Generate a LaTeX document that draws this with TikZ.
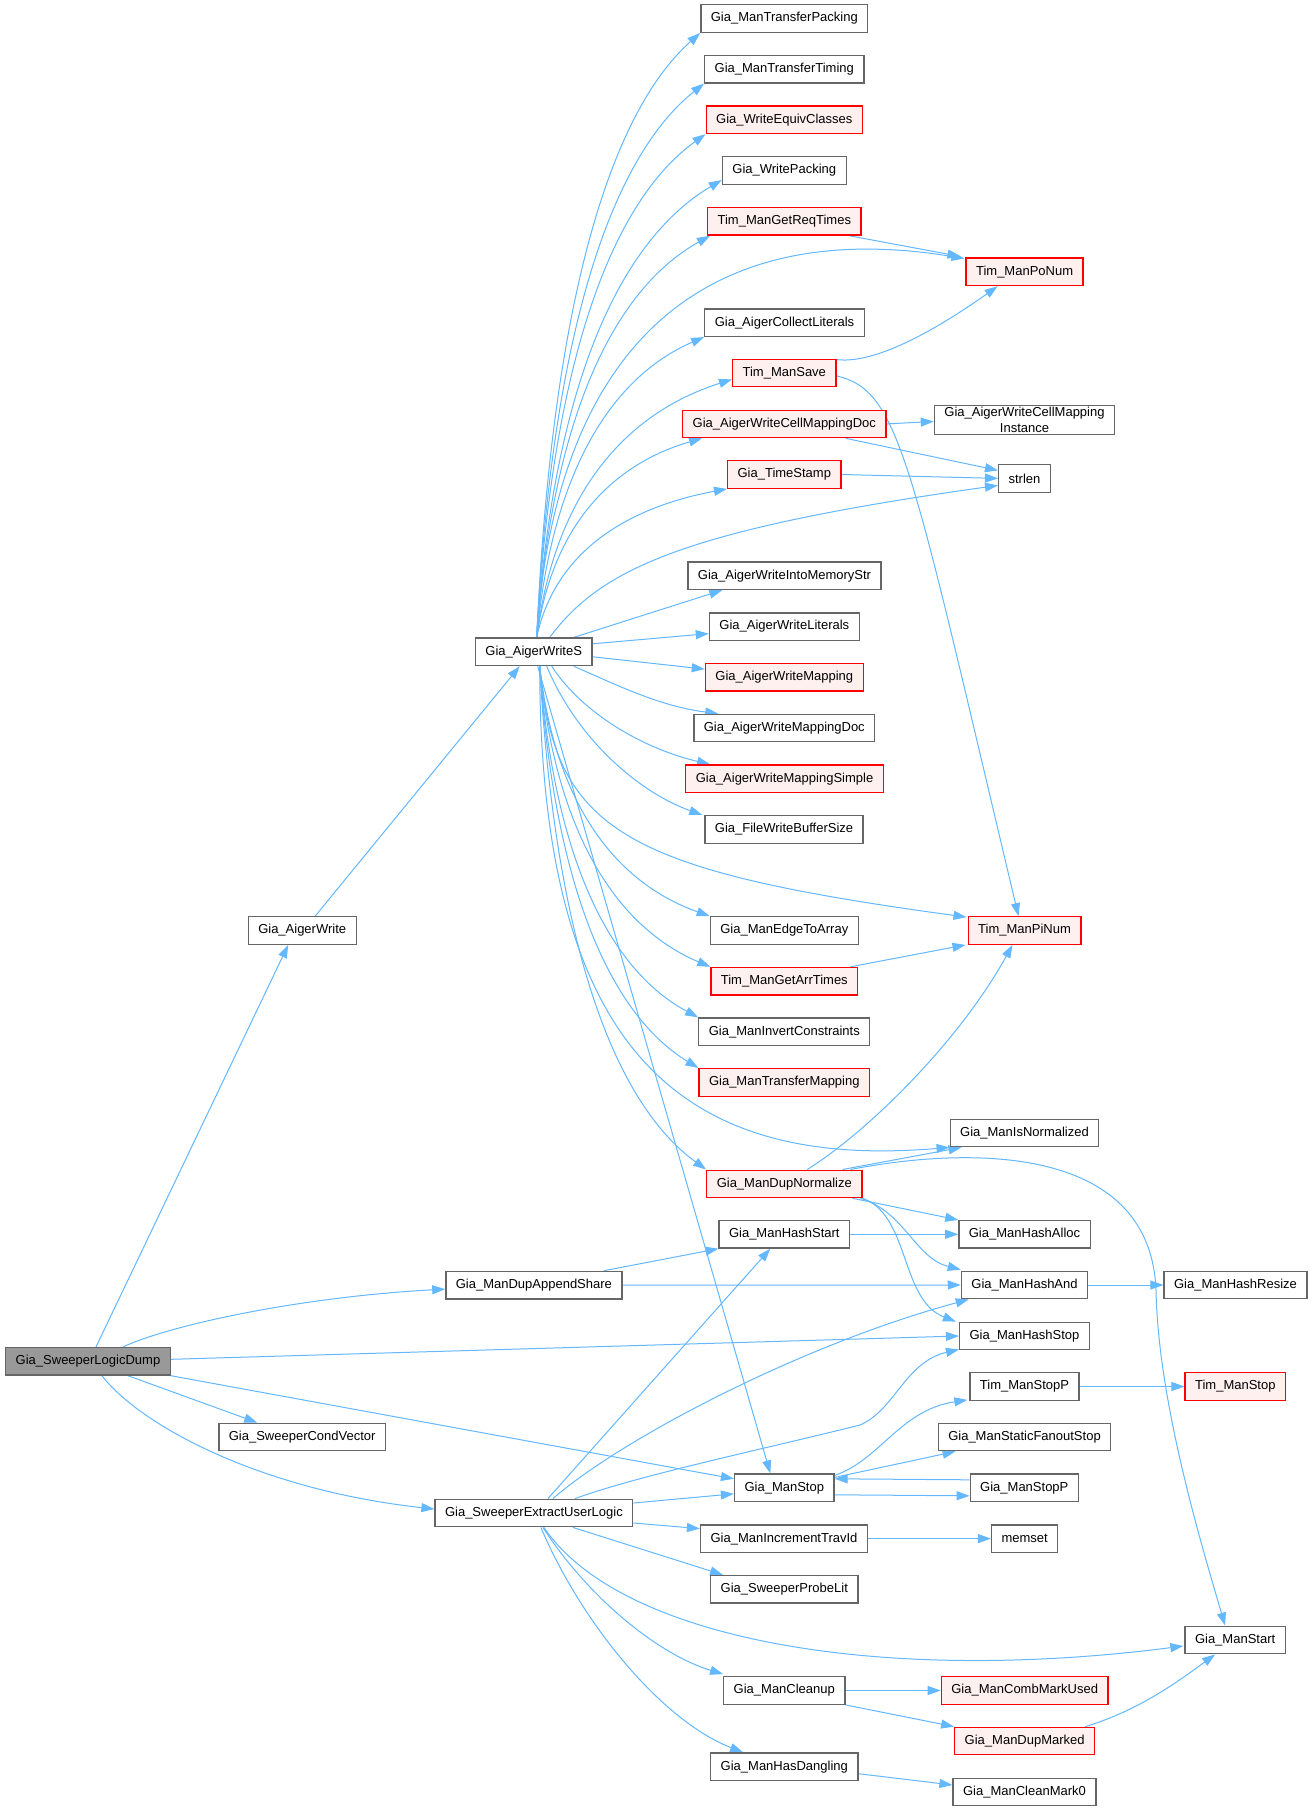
\documentclass[tikz,border=0pt]{standalone}
\usepackage{fontspec}
\setmainfont{Liberation Sans}
\usetikzlibrary{arrows.meta,calc}
\definecolor{edgeblue}{HTML}{63B8FF}
\definecolor{boxgray}{HTML}{666666}
\definecolor{redfill}{HTML}{FFF0F0}
\definecolor{rootgray}{HTML}{999999}
\definecolor{redline}{HTML}{FF0000}
\pgfdeclarelayer{bg}
\pgfsetlayers{bg,main}
\tikzset{
  box/.style={draw=boxgray, fill=white, line width=1.3pt, minimum height=27.5pt,
    inner xsep=10pt, inner ysep=2pt, font=\fontsize{13}{15.8}\selectfont, text=black},
  redbox/.style={box, draw=redline, fill=redfill},
  rootbox/.style={box, fill=rootgray},
  edge/.style={draw=edgeblue, line width=1pt, -{Triangle[length=13pt,width=9pt]}}
}
\newcommand\fanedge[6]{\draw[edge] let \p1=(#1), \p2=(#2) in (\p1) .. controls ({\x1+#3*(\x2-\x1)},{\y1+#4*(\y2-\y1)}) and ({\x2-#5*(\x2-\x1)},{\y2-#6*(\y2-\y1)}) .. (\p2);}
\begin{document}
\begin{tikzpicture}[x=1pt,y=-1pt]
\begin{pgfonlayer}{bg}
\fill[white] (0,0) rectangle (1314,1811);
\end{pgfonlayer}
\useasboundingbox (0,0) rectangle (1314,1811);
% column A-C
\node[rootbox] (D) at (88,1361.3) {Gia\_SweeperLogicDump};
\node[box] (AW) at (302.2,930.5) {Gia\_AigerWrite};
\node[box] (S) at (533.7,651.8) {Gia\_AigerWriteS};
\node[box] (DAS) at (533.9,1285.1) {Gia\_ManDupAppendShare};
\node[box] (SCV) at (302.2,1437) {Gia\_SweeperCondVector};
\node[box] (X) at (533.9,1513) {Gia\_SweeperExtractUserLogic};
% column D
\node[box] (TP) at (784.3,18.6) {Gia\_ManTransferPacking};
\node[box] (TT) at (784.3,69.2) {Gia\_ManTransferTiming};
\node[redbox] (WEC) at (784.3,119.8) {Gia\_WriteEquivClasses};
\node[box] (WP) at (784.3,170.6) {Gia\_WritePacking};
\node[redbox] (GRT) at (784.3,221.4) {Tim\_ManGetReqTimes};
\node[box] (ACL) at (784.5,322.7) {Gia\_AigerCollectLiterals};
\node[redbox] (TSv) at (784.3,373) {Tim\_ManSave};
\node[redbox] (CMD) at (784.3,423.9) {Gia\_AigerWriteCellMappingDoc};
\node[redbox] (TSt) at (784.3,474.5) {Gia\_TimeStamp};
\node[box] (IMS) at (784.5,575.7) {Gia\_AigerWriteIntoMemoryStr};
\node[box] (WL) at (784.3,626.6) {Gia\_AigerWriteLiterals};
\node[redbox] (WM) at (784.3,677.1) {Gia\_AigerWriteMapping};
\node[box] (WMD) at (784.3,728) {Gia\_AigerWriteMappingDoc};
\node[redbox] (WMS) at (784.5,778.7) {Gia\_AigerWriteMappingSimple};
\node[box] (FWB) at (784,829.4) {Gia\_FileWriteBufferSize};
\node[box] (ETA) at (784.3,930.5) {Gia\_ManEdgeToArray};
\node[redbox] (GAT) at (784.3,981.2) {Tim\_ManGetArrTimes};
\node[box] (MIC) at (784.3,1031.7) {Gia\_ManInvertConstraints};
\node[redbox] (MTM) at (784.3,1082.4) {Gia\_ManTransferMapping};
\node[redbox] (DN) at (784.3,1183.9) {Gia\_ManDupNormalize};
\node[box] (HS) at (784.3,1234.3) {Gia\_ManHashStart};
\node[box] (MS) at (784.3,1487.8) {Gia\_ManStop};
\node[box] (MIT) at (784,1538.6) {Gia\_ManIncrementTravId};
\node[box] (SPL) at (784.3,1589.3) {Gia\_SweeperProbeLit};
\node[box] (MC) at (784.3,1690.5) {Gia\_ManCleanup};
\node[box] (MHD) at (784.3,1766.7) {Gia\_ManHasDangling};
% column E
\node[redbox] (PoN) at (1024.6,271.9) {Tim\_ManPoNum};
\node[box, align=center] (CMI) at (1024.5,420) {Gia\_AigerWriteCellMapping\\Instance};
\node[box] (strlen) at (1024.5,478.4) {strlen};
\node[redbox] (PiN) at (1024.5,930.5) {Tim\_ManPiNum};
\node[box] (IsN) at (1024.5,1133) {Gia\_ManIsNormalized};
\node[box] (HAl) at (1024.5,1234.3) {Gia\_ManHashAlloc};
\node[box] (HAnd) at (1024.5,1285) {Gia\_ManHashAnd};
\node[box] (HStop) at (1024.5,1336) {Gia\_ManHashStop};
\node[box] (TSP) at (1024.5,1386.5) {Tim\_ManStopP};
\node[box] (SFS) at (1024.5,1437) {Gia\_ManStaticFanoutStop};
\node[box] (MSP) at (1024.3,1487.8) {Gia\_ManStopP};
\node[box] (memset) at (1024.7,1538.6) {memset};
\node[redbox] (CMU) at (1024.7,1690.5) {Gia\_ManCombMarkUsed};
\node[redbox] (DM) at (1024.7,1741) {Gia\_ManDupMarked};
\node[box] (CM0) at (1024.5,1792) {Gia\_ManCleanMark0};
% column F
\node[box] (HR) at (1235.5,1285) {Gia\_ManHashResize};
\node[redbox] (TS) at (1235.3,1386.5) {Tim\_ManStop};
\node[box] (MSt) at (1235.1,1640) {Gia\_ManStart};
\coordinate (Sn) at ($(S.north)+(3,0)$);
\coordinate (Ss) at ($(S.south)+(6,0)$);

\begin{pgfonlayer}{bg}
% root edges
\draw[edge] ($(D.north)+(8,0)$) -- ($(AW.south)+(-14,0)$);
\draw[edge] ($(AW.north)+(13,0)$) -- ($(S.south)+(-14,0)$);
\draw[edge] ($(D.north)+(35,0)$) .. controls (170,1325) and (300,1297) .. ($(DAS.west)+(0,4)$);
\draw[edge] ($(D.east)+(0,-2)$) -- (HStop.west);
\draw[edge] ($(D.south)+(40,0)$) -- ($(SCV.north)+(-45,0)$);
\draw[edge] (D.south east) -- ($(MS.west)+(0,-9)$);
\draw[edge] ($(D.south)+(14,0)$) .. controls (140,1425) and (260,1490) .. ($(X.west)+(0,-4)$);
% S fan upward
\fanedge{Sn}{TP.south west}{0.1}{0.6}{0.5}{0.12}
\fanedge{Sn}{TT.south west}{0.1}{0.6}{0.5}{0.12}
\fanedge{Sn}{WEC.south west}{0.1}{0.6}{0.5}{0.12}
\fanedge{Sn}{$(WP.south west)+(0,-5)$}{0.1}{0.6}{0.5}{0.12}
\fanedge{Sn}{$(GRT.south west)+(3,0)$}{0.1}{0.6}{0.5}{0.12}
\fanedge{Sn}{ACL.south west}{0.1}{0.6}{0.5}{0.12}
\fanedge{Sn}{$(TSv.south west)+(0,-8)$}{0.1}{0.6}{0.5}{0.12}
\fanedge{Sn}{$(CMD.south west)+(20,0)$}{0.1}{0.6}{0.5}{0.12}
\fanedge{Sn}{TSt.south west}{0.1}{0.6}{0.5}{0.12}
\draw[edge] (Sn) .. controls (555,350) and (700,215) .. ($(PoN.north west)+(-1,1)$);
\draw[edge] ($(S.north)+(16,0)$) .. controls (600,570) and (680,530) .. ($(strlen.west)+(0,7)$);
\draw[edge] ($(S.north)+(40,0)$) -- ($(IMS.south west)+(35,0)$);
\draw[edge] ($(S.east)+(0,-8)$) -- ($(WL.west)+(0,7)$);
\draw[edge] ($(S.east)+(0,5)$) -- ($(WM.west)+(0,-8)$);
\fanedge{$(S.south)+(40,0)$}{$(WMD.north west)+(25,0)$}{0.3}{0.4}{0.4}{0.15}
\fanedge{$(S.south)+(18,0)$}{$(WMS.north west)+(25,0)$}{0.2}{0.5}{0.4}{0.15}
\fanedge{$(S.south)+(13,0)$}{$(FWB.north west)+(-2,0)$}{0.2}{0.5}{0.4}{0.15}
\draw[edge] (Ss) .. controls (555,830) and (620,870) .. ($(PiN.north west)+(-1,1)$);
% S fan downward
\fanedge{Ss}{ETA.north west}{0.1}{0.6}{0.5}{0.12}
\fanedge{Ss}{GAT.north west}{0.1}{0.6}{0.5}{0.12}
\fanedge{Ss}{MIC.north west}{0.1}{0.6}{0.5}{0.12}
\fanedge{Ss}{MTM.north west}{0.1}{0.6}{0.5}{0.12}
\draw[edge] (Ss) .. controls (540,1050) and (680,1170) .. (IsN.south west);
\fanedge{Ss}{DN.north west}{0.1}{0.6}{0.5}{0.12}
\draw[edge] ($(S.south)+(4,0)$) -- ($(MS.north)+(-14,0)$);
% second level, upper
\draw[edge] ($(GRT.south east)+(-12,0)$) -- ($(PoN.north west)+(-5,-1)$);
\draw[edge] ($(TSv.north east)+(0,1)$) .. controls (880,365) and (950,320) .. ($(PoN.south)+(-27,0)$);
\draw[edge] ($(TSv.east)+(0,3)$) .. controls (900,390) and (910,460) .. ($(PiN.north)+(-6,0)$);
\draw[edge] (CMD.east) -- ($(CMI.west)+(0,1.5)$);
\draw[edge] ($(CMD.south east)+(-41,0)$) -- ($(strlen.west)+(0,-8)$);
\draw[edge] (TSt.east) -- (strlen.west);
\draw[edge] ($(GAT.north east)+(-8,0)$) -- ($(PiN.south west)+(-2,0)$);
% DupNormalize
\draw[edge] ($(DN.north)+(23,0)$) .. controls (870,1130) and (960,1040) .. ($(PiN.south)+(-12,0)$);
\draw[edge] ($(DN.north east)+(-20,0)$) -- ($(IsN.south west)+(12,0)$);
\draw[edge] ($(DN.north east)+(-12,0)$) .. controls (960,1148) and (1150,1140) .. (1156,1290) .. controls (1158,1400) and (1200,1540) .. ($(MSt.north)+(-10,0)$);
\draw[edge] ($(DN.south east)+(-10,0)$) -- (HAl.north west);
\draw[edge] ($(DN.south east)+(-2,0)$) .. controls (905,1212) and (915,1258) .. ($(HAnd.north west)+(0,-1)$);
\draw[edge] (DN.south east) .. controls (910,1215) and (900,1300) .. ($(HStop.north west)+(-3,0)$);
% DupAppendShare / Hash
\draw[edge] ($(DAS.north)+(70,0)$) -- (HS.south west);
\draw[edge] (DAS.east) -- (HAnd.west);
\draw[edge] (HS.east) -- (HAl.west);
\draw[edge] (HAnd.east) -- (HR.west);
% ExtractUserLogic
\draw[edge] ($(X.north)+(14,0)$) -- ($(HS.south)+(-14,0)$);
\draw[edge] ($(X.north)+(19,0)$) .. controls (620,1440) and (800,1345) .. ($(HAnd.south west)+(8,0)$);
\draw[edge] ($(X.north)+(41,0)$) .. controls (640,1475) and (760,1450) .. (860,1425) .. controls (895,1410) and (905,1362) .. ($(HStop.south west)+(0,-1)$);
\draw[edge] ($(X.east)+(0,-10)$) -- ($(MS.west)+(0,6)$);
\draw[edge] ($(X.east)+(0,10)$) -- ($(MIT.west)+(0,-10)$);
\draw[edge] ($(X.south)+(39,0)$) -- ($(SPL.north west)+(13,0)$);
\draw[edge] ($(X.south)+(10,0)$) .. controls (620,1640) and (880,1685) .. ($(MSt.west)+(-1,6)$);
\draw[edge] ($(X.south)+(9,0)$) .. controls (590,1600) and (660,1655) .. ($(MC.north west)+(0,-2)$);
\draw[edge] ($(X.south)+(7,0)$) .. controls (580,1620) and (660,1720) .. ($(MHD.north west)+(33,0)$);
% ManStop
\draw[edge] ($(MS.north east)+(0,2)$) .. controls (880,1460) and (900,1410) .. ($(TSP.south west)+(-2,-1)$);
\draw[edge] ($(MS.north east)+(0,4)$) -- ($(SFS.south west)+(18,0)$);
\draw[edge] ($(MSP.west)+(0,-8)$) -- ($(MS.east)+(0,-9)$);
\draw[edge] ($(MS.east)+(0,7)$) -- ($(MSP.west)+(0,8)$);
\draw[edge] (TSP.east) -- (TS.west);
\draw[edge] (MIT.east) -- (memset.west);
% Cleanup etc.
\draw[edge] (MC.east) -- (CMU.west);
\draw[edge] (MC.south east) -- (DM.north west);
\draw[edge] ($(DM.north east)+(-10,0)$) .. controls (1140,1710) and (1180,1680) .. ($(MSt.south)+(-20,0)$);
\draw[edge] ($(MHD.east)+(0,7)$) -- ($(CM0.west)+(0,-7)$);
\end{pgfonlayer}
\end{tikzpicture}
\end{document}
